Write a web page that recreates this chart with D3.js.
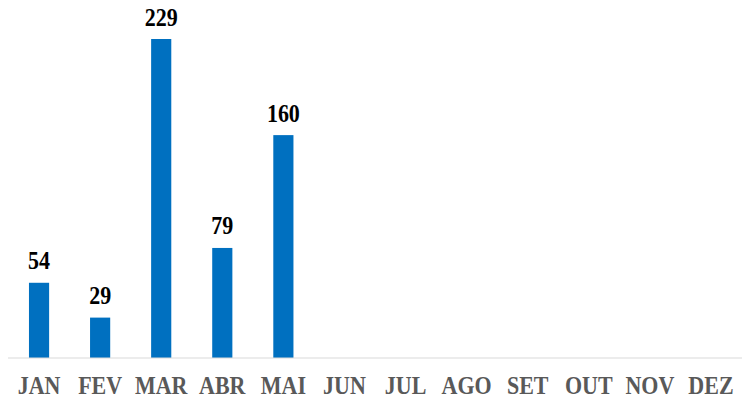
<!DOCTYPE html>
<html><head><meta charset="utf-8">
<script src="https://cdn.jsdelivr.net/npm/d3@7"></script>
<style>body{margin:0;background:#fff}svg{display:block}</style>
</head><body>
<svg id="c" width="743" height="400"></svg>
<script>
const categories = ["JAN","FEV","MAR","ABR","MAI","JUN","JUL","AGO","SET","OUT","NOV","DEZ"];
const values = [54, 29, 229, 79, 160, null, null, null, null, null, null, null];

const svg = d3.select("#c");
const x = d3.scaleBand().domain(categories).range([8.5, 741.5]).paddingInner(0.67).paddingOuter(0.335);
const y = d3.scaleLinear().domain([0, 229]).range([358, 39]);

const data = categories.map((c, i) => ({c, v: values[i]}));
const bars = data.filter(d => d.v != null);

svg.append("g").selectAll("rect").data(bars).join("rect")
  .attr("x", d => x(d.c)).attr("width", x.bandwidth())
  .attr("y", d => y(d.v)).attr("height", d => y(0) - y(d.v))
  .attr("fill", "#0070C0");

svg.append("g").selectAll("text").data(bars).join("text")
  .attr("transform", d => `translate(${x(d.c) + x.bandwidth()/2},${y(d.v) - 13.5}) scale(1,1.1)`)
  .attr("text-anchor", "middle")
  .attr("font-family", "'Liberation Serif','Times New Roman',serif")
  .attr("font-weight", "bold").attr("font-size", 22)
  .attr("fill", "#000")
  .text(d => d.v);

const axis = d3.axisBottom(x).tickSize(0).tickPadding(0);
const g = svg.append("g").attr("transform", "translate(0,358)").call(axis);
g.select(".domain").attr("stroke", "#d9d9d9").attr("stroke-width", 1.2).attr("d", "M8,0H742");
g.selectAll(".tick text")
  .attr("y", 0).attr("dy", null)
  .attr("transform", "translate(0,36) scale(1,1.18)")
  .attr("font-family", "'Liberation Serif','Times New Roman',serif")
  .attr("font-weight", "bold").attr("font-size", 22)
  .attr("fill", "#595959");
</script>
</body></html>
